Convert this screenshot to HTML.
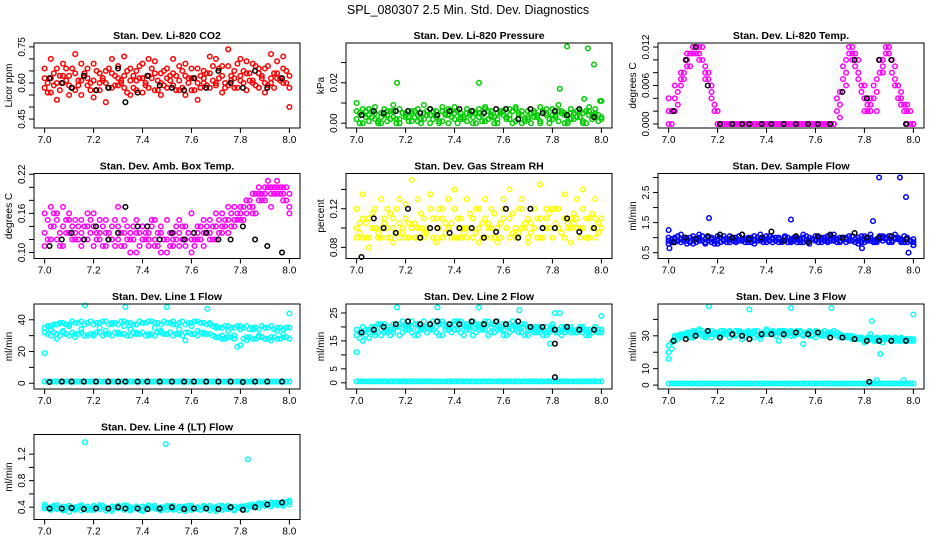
<!DOCTYPE html>
<html><head><meta charset="utf-8">
<style>
html,body{margin:0;padding:0;background:#fff;}
svg{display:block;font-family:"Liberation Sans",Arial,sans-serif;}
</style></head>
<body>
<svg id="chart" width="936" height="540" viewBox="0 0 936 540">
<text x="468" y="14" text-anchor="middle" font-size="12.5">SPL_080307  2.5 Min. Std. Dev. Diagnostics</text>
</svg>
<script>
// shared time axes
const times = [7.000,7.025,7.050,7.075,7.100,7.125,7.150,7.175,7.200,7.225,7.250,7.275,7.300,7.325,7.350,7.375,7.400,7.425,7.450,7.475,7.500,7.525,7.550,7.575,7.600,7.625,7.650,7.675,7.700,7.725,7.750,7.775,7.800,7.825,7.850,7.875,7.900,7.925,7.950,7.975,8.000];
const timesHalf = [7.0125,7.0375,7.0625,7.0875,7.1125,7.1375,7.1625,7.1875,7.2125,7.2375,7.2625,7.2875,7.3125,7.3375,7.3625,7.3875,7.4125,7.4375,7.4625,7.4875,7.5125,7.5375,7.5625,7.5875,7.6125,7.6375,7.6625,7.6875,7.7125,7.7375,7.7625,7.7875,7.8125,7.8375,7.8625,7.8875,7.9125,7.9375,7.9625,7.9875];
const blackTimes = [7.02,7.07,7.11,7.16,7.21,7.26,7.30,7.33,7.38,7.42,7.47,7.52,7.57,7.61,7.66,7.71,7.76,7.81,7.86,7.91,7.97];
const xTicks = [7.0,7.2,7.4,7.6,7.8,8.0];
const xTickLabels = ["7.0","7.2","7.4","7.6","7.8","8.0"];

// Panel 1 CO2
const co2A = [0.58,0.62,0.66,0.60,0.55,0.64,0.68,0.59,0.61,0.57,0.65,0.70,0.62,0.58,0.66,0.61,0.56,0.63,0.69,0.60,0.58,0.64,0.67,0.55,0.62,0.66,0.60,0.58,0.70,0.63,0.59,0.65,0.61,0.57,0.68,0.64,0.60,0.72,0.62,0.66,0.58];
const co2B = [0.62,0.56,0.60,0.68,0.63,0.57,0.61,0.66,0.54,0.64,0.60,0.58,0.67,0.63,0.55,0.65,0.62,0.70,0.57,0.64,0.66,0.59,0.61,0.68,0.57,0.60,0.65,0.71,0.59,0.56,0.67,0.62,0.70,0.64,0.60,0.58,0.66,0.62,0.69,0.60,0.63];
const co2C = [0.66,0.70,0.53,0.63,0.59,0.72,0.55,0.62,0.68,0.60,0.52,0.64,0.59,0.71,0.61,0.57,0.68,0.58,0.64,0.55,0.62,0.70,0.57,0.63,0.66,0.53,0.62,0.64,0.60,0.67,0.74,0.58,0.63,0.69,0.61,0.66,0.56,0.60,0.64,0.71,0.50];
const co2D = [0.60,0.64,0.57,0.61,0.66,0.59,0.63,0.57,0.65,0.61,0.58,0.63,0.60,0.65,0.58,0.62,0.60,0.66,0.61,0.59,0.63,0.57,0.65,0.60,0.62,0.58,0.64,0.61,0.66,0.60,0.63,0.58,0.65,0.61,0.67,0.62,0.59,0.64,0.61,0.65];
const co2E = [0.56,0.59,0.63,0.66,0.58,0.61,0.64,0.60,0.57,0.62,0.66,0.59,0.61,0.56,0.63,0.67,0.59,0.62,0.57,0.65,0.61,0.63,0.58,0.62,0.57,0.63,0.59,0.67,0.62,0.58,0.61,0.68,0.60,0.64,0.59,0.63,0.67,0.58,0.62,0.60];
const co2Black = [0.62,0.60,0.58,0.63,0.57,0.58,0.66,0.52,0.56,0.63,0.59,0.58,0.57,0.62,0.58,0.65,0.60,0.58,0.65,0.58,0.62];

// Panel 2 pressure
const presA = [0.006,0.004,0.007,0.002,0.005,0.006,0.003,0.007,0.004,0.006,0.001,0.005,0.007,0.003,0.006,0.004,0.008,0.002,0.005,0.006,0.003,0.007,0.004,0.005,0.006,0.002,0.007,0.004,0.006,0.003,0.008,0.005,0.002,0.006,0.004,0.007,0.003,0.005,0.006,0.004,0.011];
const presB = [0.002,0.007,0.001,0.005,0.003,0.001,0.006,0.002,0.005,0.001,0.007,0.002,0.004,0.006,0.001,0.007,0.002,0.005,0.001,0.003,0.007,0.001,0.006,0.002,0.004,0.007,0.001,0.006,0.002,0.005,0.001,0.004,0.007,0.001,0.005,0.002,0.006,0.001,0.004,0.007,0.002];
const presC = [0.010,0.000,0.004,0.008,0.000,0.004,0.009,0.000,0.003,0.005,0.004,0.009,0.000,0.004,0.008,0.000,0.005,0.003,0.007,0.000,0.005,0.008,0.003,0.000,0.006,0.004,0.008,0.000,0.003,0.006,0.000,0.007,0.004,0.009,0.000,0.005,0.003,0.000,0.008,0.005,0.003];
const presD = [0.005,0.003,0.006,0.001,0.004,0.006,0.002,0.005,0.003,0.006,0.002,0.004,0.006,0.001,0.005,0.003,0.006,0.002,0.004,0.005,0.001,0.006,0.003,0.005,0.002,0.006,0.004,0.001,0.005,0.003,0.006,0.002,0.004,0.006,0.001,0.005,0.003,0.006,0.002,0.004];
const presE = [0.000,0.006,0.003,0.000,0.007,0.002,0.000,0.005,0.001,0.003,0.000,0.006,0.002,0.000,0.004,0.006,0.000,0.003,0.005,0.000,0.004,0.002,0.000,0.006,0.003,0.000,0.005,0.002,0.000,0.004,0.006,0.000,0.003,0.005,0.000,0.002,0.006,0.000,0.004,0.001];
const presOutT = [7.165,7.50,7.83,7.86,7.93,7.945,7.97,7.995];
const presOutV = [0.020,0.020,0.017,0.038,0.012,0.037,0.029,0.011];
const presBlack = [0.004,0.006,0.005,0.006,0.006,0.005,0.007,0.004,0.006,0.007,0.006,0.005,0.007,0.007,0.002,0.007,0.005,0.006,0.004,0.007,0.003];

// Panel 3 Li-820 temp
const ltA = [0.002,0.002,0.006,0.010,0.012,0.012,0.009,0.005,0.000,0,0,0,0,0,0,0,0,0,0,0,0,0,0,0,0,0,0,0,0.003,0.008,0.012,0.008,0.004,0.003,0.005,0.009,0.011,0.009,0.004,0.002,0.000];
const ltB = [0.000,0.004,0.007,0.011,0.011,0.010,0.007,0.004,0.002,0,0,0,0,0,0,0,0,0,0,0,0,0,0,0,0,0,0,0,0.005,0.010,0.011,0.007,0.002,0.002,0.007,0.010,0.012,0.007,0.003,0.000,0.000];
const ltC = [0.004,0.006,0.008,0.009,0.012,0.011,0.008,0.006,0.000,0,0,0,0,0,0,0,0,0,0,0,0,0,0,0,0,0,0,0,0.001,0.006,0.010,0.010,0.006,0.004,0.002,0.008,0.012,0.006,0.005,0.003,0.000];
const ltD = [0.002,0.005,0.008,0.011,0.012,0.010,0.007,0.003,0,0,0,0,0,0,0,0,0,0,0,0,0,0,0,0,0,0,0,0.002,0.007,0.011,0.011,0.006,0.003,0.004,0.008,0.011,0.010,0.006,0.003,0.002];
const ltE = [0.000,0.003,0.007,0.009,0.011,0.012,0.008,0.002,0,0,0,0,0,0,0,0,0,0,0,0,0,0,0,0,0,0,0,0.004,0.009,0.012,0.009,0.005,0.002,0.006,0.010,0.012,0.008,0.004,0.002,0.000];
const ltBlack = [0.002,0.010,0.012,0.006,0,0,0,0,0,0,0,0,0,0,0,0.005,0.010,0.004,0.010,0.010,0.000];

// Panel 4 amb box temp
const abA = [0.16,0.17,0.15,0.14,0.16,0.13,0.15,0.12,0.14,0.13,0.15,0.12,0.14,0.11,0.13,0.15,0.12,0.13,0.11,0.14,0.12,0.13,0.15,0.11,0.12,0.14,0.13,0.15,0.14,0.16,0.15,0.17,0.16,0.18,0.17,0.19,0.18,0.20,0.19,0.20,0.17];
const abB = [0.11,0.14,0.12,0.17,0.13,0.15,0.11,0.14,0.16,0.12,0.11,0.14,0.12,0.15,0.12,0.10,0.14,0.12,0.15,0.13,0.10,0.12,0.11,0.14,0.16,0.12,0.11,0.13,0.12,0.14,0.13,0.15,0.17,0.16,0.19,0.18,0.20,0.19,0.21,0.19,0.16];
const abC = [0.13,0.12,0.16,0.11,0.15,0.12,0.13,0.16,0.11,0.15,0.13,0.12,0.17,0.13,0.10,0.13,0.14,0.11,0.12,0.10,0.15,0.11,0.13,0.12,0.10,0.13,0.15,0.12,0.16,0.13,0.17,0.14,0.15,0.18,0.16,0.20,0.19,0.17,0.20,0.18,0.19];
const abD = [0.15,0.14,0.13,0.15,0.14,0.12,0.14,0.13,0.12,0.14,0.13,0.11,0.13,0.14,0.12,0.13,0.12,0.14,0.13,0.12,0.11,0.14,0.12,0.13,0.12,0.14,0.13,0.14,0.15,0.14,0.16,0.15,0.17,0.18,0.19,0.18,0.20,0.19,0.20,0.18];
const abE = [0.12,0.16,0.11,0.13,0.12,0.14,0.12,0.15,0.13,0.11,0.12,0.15,0.11,0.12,0.14,0.11,0.13,0.15,0.11,0.12,0.13,0.12,0.14,0.13,0.11,0.12,0.14,0.12,0.13,0.15,0.14,0.16,0.15,0.17,0.16,0.19,0.21,0.20,0.19,0.20];
const abBlack = [0.11,0.12,0.13,0.12,0.14,0.12,0.13,0.17,0.14,0.14,0.12,0.13,0.12,0.13,0.13,0.12,0.12,0.14,0.12,0.11,0.10];

// Panel 5 RH
const rhA = [0.10,0.09,0.11,0.10,0.09,0.12,0.10,0.09,0.11,0.10,0.13,0.09,0.10,0.11,0.09,0.10,0.12,0.10,0.09,0.11,0.10,0.09,0.12,0.10,0.11,0.09,0.10,0.12,0.11,0.10,0.09,0.11,0.12,0.10,0.09,0.11,0.10,0.12,0.09,0.11,0.10];
const rhB = [0.09,0.11,0.09,0.12,0.10,0.09,0.11,0.13,0.09,0.10,0.09,0.11,0.12,0.09,0.11,0.13,0.09,0.11,0.10,0.09,0.12,0.11,0.09,0.10,0.13,0.11,0.09,0.10,0.09,0.12,0.11,0.10,0.09,0.12,0.11,0.10,0.13,0.10,0.11,0.09,0.11];
const rhC = [0.12,0.135,0.08,0.10,0.13,0.10,0.085,0.105,0.125,0.15,0.10,0.095,0.135,0.085,0.12,0.10,0.14,0.09,0.13,0.11,0.085,0.13,0.10,0.085,0.12,0.14,0.10,0.13,0.085,0.10,0.145,0.12,0.09,0.10,0.135,0.085,0.11,0.14,0.09,0.13,0.10];
const rhD = [0.095,0.105,0.10,0.09,0.105,0.115,0.095,0.10,0.09,0.105,0.10,0.095,0.11,0.10,0.095,0.105,0.09,0.10,0.115,0.095,0.105,0.10,0.09,0.105,0.10,0.115,0.095,0.10,0.105,0.09,0.10,0.115,0.105,0.095,0.10,0.105,0.09,0.11,0.10,0.095];
const rhE = [0.105,0.09,0.115,0.095,0.11,0.09,0.12,0.095,0.105,0.09,0.115,0.10,0.09,0.12,0.105,0.09,0.11,0.095,0.10,0.12,0.09,0.105,0.115,0.09,0.10,0.095,0.12,0.105,0.095,0.11,0.09,0.10,0.12,0.095,0.105,0.115,0.10,0.09,0.115,0.105];
const rhBlack = [0.07,0.11,0.10,0.095,0.12,0.09,0.10,0.10,0.095,0.10,0.10,0.09,0.096,0.12,0.09,0.12,0.10,0.10,0.11,0.096,0.10];

// Panel 6 sample flow
const sfA = [0.9,1.0,0.85,0.95,1.05,0.9,0.8,1.0,0.95,0.9,1.05,0.85,0.95,1.0,0.9,1.1,0.85,0.95,1.0,0.9,0.95,0.85,1.0,0.9,1.05,0.95,0.85,1.0,0.9,0.95,1.05,0.9,0.85,1.0,0.95,0.9,1.05,0.95,0.9,1.0,0.85];
const sfB = [1.0,0.85,0.95,0.9,0.8,1.0,0.95,0.85,1.05,0.95,0.85,1.0,0.9,0.85,1.05,0.9,0.95,1.0,0.85,1.05,0.9,1.0,0.85,1.0,0.9,0.85,1.05,0.9,1.0,0.85,0.9,1.0,1.05,0.9,0.85,1.05,0.9,1.0,0.95,0.85,0.95];
const sfC = [0.8,0.95,1.1,0.8,0.95,1.1,0.85,0.95,0.8,1.05,0.95,0.9,1.1,0.95,0.8,0.95,1.05,0.85,0.95,1.0,0.85,0.95,1.1,0.8,0.95,1.0,0.9,1.1,0.85,1.0,0.9,0.8,0.95,1.1,0.9,1.0,0.85,1.1,0.85,0.95,0.75];
const sfD = [0.95,0.9,1.0,0.85,0.95,0.9,1.0,0.9,0.85,0.95,1.0,0.9,0.95,0.85,1.0,0.95,0.9,1.0,0.9,0.85,1.0,0.95,0.9,0.95,0.85,1.0,0.9,0.95,1.0,0.9,0.95,0.85,1.0,0.9,0.95,1.0,0.9,0.95,0.85,0.9];
const sfE = [0.85,1.05,0.9,1.0,0.85,1.05,0.9,0.8,1.0,0.85,0.9,1.05,0.85,1.0,0.9,0.85,1.05,0.9,0.85,1.0,0.9,0.85,1.05,0.95,1.0,0.9,1.05,0.85,0.95,1.05,0.85,1.05,0.9,0.85,1.05,0.95,0.85,1.0,1.05,0.9];
const sfOutT = [7.0,7.003,7.165,7.50,7.79,7.835,7.86,7.945,7.97,7.98,8.0];
const sfOutV = [1.25,0.65,1.65,1.6,0.65,1.55,3.0,3.0,2.35,0.5,0.75];
const sfBlack = [0.85,1.0,0.95,1.05,1.1,1.0,1.1,0.95,1.0,1.2,0.9,1.05,0.85,1.05,1.1,1.0,1.15,1.0,1.0,1.05,0.95];

// Panel 7 line 1 flow
const l1A = [35,36,37,38,37,38,39,38,37,38,39,38,37,39,38,37,38,39,38,37,38,39,38,37,38,39,38,37,36,35,36,35,34,36,35,34,35,36,35,34,35];
const l1B = [32,30,31,32,30,31,32,30,31,32,31,30,32,31,30,31,32,31,30,32,31,30,31,32,31,30,32,31,29,30,29,28,24,29,28,29,28,27,28,29,28];
const l1C = [19,34,28,33,36,29,34,38,30,35,33,37,31,36,34,32,38,30,35,33,31,37,34,27,36,33,31,38,35,28,33,30,36,27,34,30,35,29,33,31,44];
const l1D = [36,37,38,37,39,38,37,39,38,39,37,38,39,38,37,39,38,39,38,39,38,37,39,38,39,38,37,36,35,36,35,36,35,34,35,36,35,34,35,35];
const l1E = [31,32,30,31,32,31,30,31,32,30,31,32,31,30,32,31,30,31,32,31,32,31,30,32,31,32,31,30,29,28,29,23,28,29,28,29,28,29,28,29];
const l1Low = [1,1,1,1,1,1,1,1,1,1,1,1,1,1,1,1,1,1,1,1,1,1,1,1,1,1,1,1,1,1,1,1,1,1,1,1,1,1,1,1,1];
const l1OutT = [7.165,7.33,7.50,7.665];
const l1OutV = [49,48,48,47];
const l1Black = [0.8,1,1,1,1,1,1,1,1,1,1,1,1,1,1,1,1,0.8,1,1,1];

// Panel 8 line 2 flow
const l2A = [17,18,19,20,19,20,21,20,21,20,21,20,21,22,21,20,21,22,21,20,21,22,21,20,21,20,21,20,19,20,19,20,19,18,19,20,19,20,19,20,19];
const l2B = [19,20,18,17,21,18,19,21,19,22,19,22,19,20,22,19,22,20,19,22,20,19,20,22,19,21,19,21,20,18,20,18,20,19,18,19,18,19,18,19,18];
const l2C = [11,15,16,18,17,19,18,17,20,18,17,19,20,18,17,21,19,18,20,17,19,21,18,19,17,18,20,18,17,19,18,17,21,19,20,18,19,18,17,20,24];
const l2D = [18,19,20,18,21,19,20,22,20,21,19,20,22,21,19,20,22,21,19,21,20,22,21,19,20,22,20,21,19,20,19,18,19,20,19,18,20,19,18,19];
const l2E = [16,17,19,21,18,17,20,18,19,17,20,18,19,17,20,18,19,17,20,18,19,17,18,20,17,19,18,17,20,18,17,19,18,17,19,18,19,17,18,18];
const l2Low = [0.5,0.5,0.5,0.5,0.5,0.5,0.5,0.5,0.5,0.5,0.5,0.5,0.5,0.5,0.5,0.5,0.5,0.5,0.5,0.5,0.5,0.5,0.5,0.5,0.5,0.5,0.5,0.5,0.5,0.5,0.5,0.5,0.5,0.5,0.5,0.5,0.5,0.5,0.5,0.5,0.5];
const l2OutT = [7.165,7.33,7.50,7.665,7.81,7.79,7.83];
const l2OutV = [27,27,27,26,25,14,25];
const l2Black = [18,19,20,21,22,21,21,22,21,21,22,21,22,21,22,20,20,19,20,19,19];
const l2BlackExtraT = [7.81,7.81];
const l2BlackExtraV = [14,2];

// Panel 9 line 3 flow
const l3A = [20,27,30,31,32,31,32,33,32,31,32,33,32,33,32,31,33,32,33,32,33,32,31,33,32,31,32,31,30,29,30,29,28,29,28,29,28,28,29,28,28];
const l3B = [16,29,31,30,29,33,30,29,30,32,33,31,30,32,33,30,31,33,32,30,32,33,30,32,33,30,32,31,31,30,28,29,27,28,27,28,29,27,28,27,27];
const l3C = [24,30,29,32,33,34,29,31,30,33,29,30,28,31,29,28,34,31,27,33,30,31,25,30,29,32,30,33,29,30,29,28,26,31,29,26,28,29,27,28,43];
const l3D = [26,30,31,32,31,33,32,31,33,32,31,33,32,31,33,32,31,32,33,32,31,33,32,31,32,33,32,30,30,29,28,29,28,27,28,29,28,27,28,27];
const l3E = [22,28,30,29,32,30,31,32,30,31,30,32,30,32,30,31,32,30,31,32,30,32,31,30,31,30,31,32,29,30,29,28,29,28,27,28,27,28,27,28];
const l3Low = [1,1,1,1,1,1,1,1,1,1,1,1,1,1,1,1,1,1,1,1,1,1,1,1,1,1,1,1,1,1,1,1,1,1,1,1,1,1,1,1,1];
const l3OutT = [7.165,7.33,7.50,7.665,7.83,7.85,7.865,7.96];
const l3OutV = [48,46,47,47,39,3,19,3];
const l3Black = [27,28,30,33,29,31,30,28,31,31,31,32,31,32,29,29,28,27,27,27,27];
const l3BlackExtraT = [7.82];
const l3BlackExtraV = [2];

// Panel 10 line 4 flow
const l4A = [0.38,0.40,0.37,0.41,0.39,0.36,0.40,0.38,0.42,0.37,0.39,0.41,0.38,0.36,0.40,0.38,0.41,0.37,0.39,0.40,0.36,0.38,0.41,0.37,0.39,0.40,0.38,0.42,0.37,0.40,0.39,0.41,0.38,0.42,0.44,0.43,0.46,0.44,0.47,0.45,0.48];
const l4B = [0.41,0.36,0.39,0.35,0.42,0.38,0.35,0.41,0.36,0.40,0.35,0.37,0.42,0.39,0.35,0.41,0.36,0.39,0.42,0.35,0.40,0.42,0.35,0.41,0.36,0.38,0.42,0.35,0.40,0.36,0.42,0.37,0.41,0.38,0.41,0.46,0.42,0.47,0.43,0.48,0.44];
const l4C = [0.44,0.38,0.43,0.37,0.33,0.40,0.43,0.36,0.39,0.43,0.38,0.34,0.40,0.43,0.37,0.40,0.34,0.43,0.38,0.37,0.42,0.36,0.39,0.34,0.42,0.37,0.40,0.38,0.34,0.42,0.37,0.35,0.40,0.36,0.40,0.39,0.43,0.41,0.45,0.42,0.50];
const l4D = [0.39,0.42,0.38,0.40,0.37,0.41,0.39,0.36,0.40,0.42,0.37,0.40,0.39,0.42,0.38,0.36,0.40,0.41,0.37,0.39,0.41,0.38,0.40,0.42,0.38,0.36,0.40,0.39,0.42,0.38,0.40,0.39,0.41,0.43,0.42,0.45,0.44,0.46,0.45,0.47];
const l4Black = [0.38,0.38,0.39,0.37,0.38,0.38,0.40,0.38,0.38,0.37,0.38,0.40,0.37,0.38,0.38,0.37,0.40,0.36,0.40,0.44,0.47];
const l4OutT = [7.165,7.495,7.83];
const l4OutV = [1.38,1.35,1.12];

const NS = "http://www.w3.org/2000/svg";
const svg = document.getElementById("chart");
function mk(tag, attrs, parent){
  const e = document.createElementNS(NS, tag);
  for (const k in attrs) e.setAttribute(k, attrs[k]);
  (parent||svg).appendChild(e);
  return e;
}

const panels = [
  {id:"co2", title:"Stan. Dev. Li-820 CO2", ylab:"Licor ppm", col:0,row:0, ylim:[0.427,0.752], yt:[0.45,0.50,0.55,0.60,0.65,0.70,0.75], yl:{0.45:"0.45",0.60:"0.60",0.75:"0.75"},
   series:[[times,co2A,"#ff0000"],[times,co2B,"#ff0000"],[times,co2C,"#ff0000"],[timesHalf,co2D,"#ff0000"],[timesHalf,co2E,"#ff0000"],[blackTimes,co2Black,"#000"]]},
  {id:"pressure", title:"Stan. Dev. Li-820 Pressure", ylab:"kPa", col:1,row:0, ylim:[-0.0007,0.038], yt:[0,0.01,0.02,0.03], yl:{0:"0.00",0.02:"0.02"},
   series:[[times,presA,"#00cc00"],[times,presB,"#00cc00"],[times,presC,"#00cc00"],[timesHalf,presD,"#00cc00"],[timesHalf,presE,"#00cc00"],[presOutT,presOutV,"#00cc00"],[blackTimes,presBlack,"#000"]]},
  {id:"li820-temp", title:"Stan. Dev. Li-820 Temp.", ylab:"degrees C", col:2,row:0, ylim:[-0.0001,0.0121], yt:[0,0.002,0.004,0.006,0.008,0.010,0.012], yl:{0:"0.000",0.006:"0.006",0.012:"0.012"},
   series:[[times,ltA,"#ff00ff"],[times,ltB,"#ff00ff"],[times,ltC,"#ff00ff"],[timesHalf,ltD,"#ff00ff"],[timesHalf,ltE,"#ff00ff"],[blackTimes,ltBlack,"#000"]]},
  {id:"amb-box-temp", title:"Stan. Dev. Amb. Box Temp.", ylab:"degrees C", col:0,row:1, ylim:[0.096,0.216], yt:[0.10,0.12,0.14,0.16,0.18,0.20,0.22], yl:{0.10:"0.10",0.16:"0.16",0.22:"0.22"},
   series:[[times,abA,"#ff00ff"],[times,abB,"#ff00ff"],[times,abC,"#ff00ff"],[timesHalf,abD,"#ff00ff"],[timesHalf,abE,"#ff00ff"],[blackTimes,abBlack,"#000"]]},
  {id:"gas-rh", title:"Stan. Dev. Gas Stream RH", ylab:"percent", col:1,row:1, ylim:[0.072,0.153], yt:[0.08,0.10,0.12,0.14], yl:{0.08:"0.08",0.12:"0.12"},
   series:[[times,rhA,"#ffff00"],[times,rhB,"#ffff00"],[times,rhC,"#ffff00"],[timesHalf,rhD,"#ffff00"],[timesHalf,rhE,"#ffff00"],[blackTimes,rhBlack,"#000"]]},
  {id:"sample-flow", title:"Stan. Dev. Sample Flow", ylab:"ml/min", col:2,row:1, ylim:[0.42,3.02], yt:[0.5,1.0,1.5,2.0,2.5,3.0], yl:{0.5:"0.5",1.5:"1.5",2.5:"2.5"},
   series:[[times,sfA,"#0000ff"],[times,sfB,"#0000ff"],[times,sfC,"#0000ff"],[timesHalf,sfD,"#0000ff"],[timesHalf,sfE,"#0000ff"],[sfOutT,sfOutV,"#0000ff"],[blackTimes,sfBlack,"#000"]]},
  {id:"line1-flow", title:"Stan. Dev. Line 1 Flow", ylab:"ml/min", col:0,row:2, ylim:[-1.5,47.8], yt:[0,10,20,30,40], yl:{0:"0",20:"20",40:"40"},
   series:[[times,l1A,"#00ffff"],[times,l1B,"#00ffff"],[times,l1C,"#00ffff"],[timesHalf,l1D,"#00ffff"],[timesHalf,l1E,"#00ffff"],[times,l1Low,"#00ffff"],[timesHalf,l1Low,"#00ffff"],[l1OutT,l1OutV,"#00ffff"],[blackTimes,l1Black,"#000"]]},
  {id:"line2-flow", title:"Stan. Dev. Line 2 Flow", ylab:"ml/min", col:1,row:2, ylim:[-1,27], yt:[0,5,10,15,20,25], yl:{0:"0",5:"5",15:"15",25:"25"},
   series:[[times,l2A,"#00ffff"],[times,l2B,"#00ffff"],[times,l2C,"#00ffff"],[timesHalf,l2D,"#00ffff"],[timesHalf,l2E,"#00ffff"],[times,l2Low,"#00ffff"],[timesHalf,l2Low,"#00ffff"],[l2OutT,l2OutV,"#00ffff"],[blackTimes,l2Black,"#000"],[l2BlackExtraT,l2BlackExtraV,"#000"]]},
  {id:"line3-flow", title:"Stan. Dev. Line 3 Flow", ylab:"ml/min", col:2,row:2, ylim:[-0.3,47.3], yt:[0,10,20,30,40], yl:{0:"0",10:"10",30:"30"},
   series:[[times,l3A,"#00ffff"],[times,l3B,"#00ffff"],[times,l3C,"#00ffff"],[timesHalf,l3D,"#00ffff"],[timesHalf,l3E,"#00ffff"],[times,l3Low,"#00ffff"],[timesHalf,l3Low,"#00ffff"],[l3OutT,l3OutV,"#00ffff"],[blackTimes,l3Black,"#000"],[l3BlackExtraT,l3BlackExtraV,"#000"]]},
  {id:"line4-flow", title:"Stan. Dev. Line 4 (LT) Flow", ylab:"ml/min", col:0,row:3, ylim:[0.265,1.445], yt:[0.4,0.6,0.8,1.0,1.2], yl:{0.4:"0.4",0.8:"0.8",1.2:"1.2"},
   series:[[times,l4A,"#00ffff"],[times,l4B,"#00ffff"],[times,l4C,"#00ffff"],[timesHalf,l4D,"#00ffff"],[l4OutT,l4OutV,"#00ffff"],[blackTimes,l4Black,"#000"]]}
];

panels.forEach(p => {
  const L = 34 + 312*p.col, W = 266;
  const T = 43 + 130.5*p.row, H = 85;
  const pad = 0.04;
  const xScale = v => L + W*(pad + (1-2*pad)*(v-7)/1);
  const yScale = v => T + H - H*(pad + (1-2*pad)*(v-p.ylim[0])/(p.ylim[1]-p.ylim[0]));
  const g = mk("g", {});
  
  

  const t = mk("text", {x:L+W/2, y:T-4, "text-anchor":"middle", "font-size":"10.5", "font-weight":"bold"}, g);
  t.textContent = p.title;
  
  

  const pts = mk("g", {fill:"none", "stroke-width":"1.5"}, g);
  
  
  p.series.forEach(s => {
    const xs = s[0], ys = s[1];
    const n = Math.min(xs.length, ys.length);
    for (let i=0;i<n;i++){
      const c = mk("circle", {cx:xScale(xs[i]).toFixed(1), cy:yScale(ys[i]).toFixed(1), r:"2.3", stroke:s[2]}, pts);
      
      
    }
  });

  const box = mk("rect", {x:L, y:T, width:W, height:H, fill:"none", stroke:"#000", "stroke-width":"1"}, g);
  
  

  const xa = mk("g", {}, g);
  
  
  xTicks.forEach((v,i) => {
    const x = xScale(v);
    mk("line", {x1:x, x2:x, y1:T+H, y2:T+H+5, stroke:"#000"}, xa);
    const tl = mk("text", {x:x, y:T+H+15, "text-anchor":"middle", "font-size":"10"}, xa);
    tl.textContent = xTickLabels[i];
    
    
  });

  const ya = mk("g", {}, g);
  
  
  p.yt.forEach(v => {
    const y = yScale(v);
    mk("line", {x1:L-5, x2:L, y1:y, y2:y, stroke:"#000"}, ya);
    const key = Object.keys(p.yl).find(k => Math.abs(parseFloat(k)-v) < 1e-9);
    if (key !== undefined){
      const tl = mk("text", {x:0, y:0, transform:`translate(${L-9},${y}) rotate(-90)`, "text-anchor":"middle", "font-size":"10"}, ya);
      tl.textContent = p.yl[key];
      
      
    }
  });
  const yl = mk("text", {x:0, y:0, transform:`translate(${L-22},${T+H/2}) rotate(-90)`, "text-anchor":"middle", "font-size":"10"}, g);
  yl.textContent = p.ylab;
  
  
});
</script>
</body></html>
